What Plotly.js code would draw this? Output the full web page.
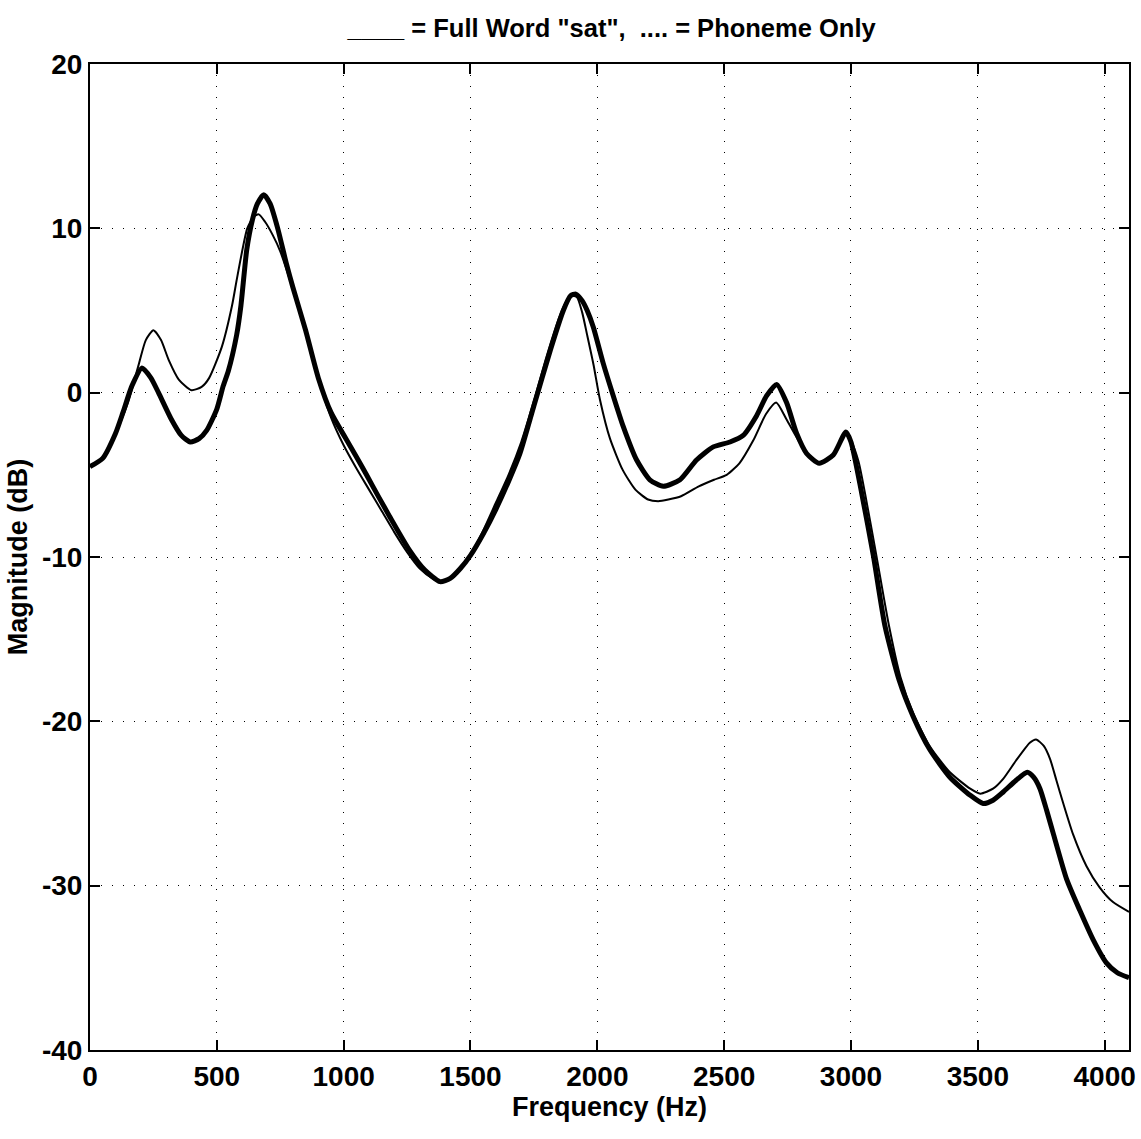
<!DOCTYPE html>
<html>
<head>
<meta charset="utf-8">
<script src="https://cdn.plot.ly/plotly-3.0.1.min.js"></script>
<style>html,body{margin:0;padding:0;background:#fff;}</style>
</head>
<body>
<div id="chart" style="width:1141px;height:1139px;"></div>
<script>
// Full word "sat" (solid thin line)
const fullFreq = [0,50,100,150,190,220,250,280,310,350,400,440,470,520,560,580,620,645,665,690,720,750,800,850,900,950,1000,1050,1100,1150,1200,1250,1300,1350,1380,1420,1460,1500,1550,1600,1650,1700,1750,1800,1850,1880,1900,1920,1940,1960,1985,2010,2050,2100,2150,2200,2240,2280,2330,2400,2460,2510,2560,2615,2665,2705,2745,2785,2825,2875,2930,2980,3000,3030,3055,3100,3150,3195,3245,3310,3390,3470,3510,3560,3600,3650,3705,3730,3760,3785,3810,3837,3876,3928,3980,4033,4096];
const fullDb = [-4.5,-4.0,-2.5,-0.6,1.6,3.2,3.8,3.2,2.0,0.8,0.15,0.35,0.9,2.8,5.3,7.0,10.0,10.7,10.85,10.4,9.6,8.6,6.3,3.8,0.9,-1.5,-3.2,-4.6,-5.9,-7.2,-8.5,-9.7,-10.7,-11.3,-11.5,-11.3,-10.7,-9.9,-8.4,-6.7,-5.0,-3.0,-0.5,2.2,4.6,5.6,5.9,5.8,4.9,3.5,1.7,-0.4,-2.8,-4.7,-5.9,-6.5,-6.6,-6.5,-6.3,-5.7,-5.3,-5.0,-4.3,-2.9,-1.3,-0.6,-1.6,-2.7,-3.7,-4.3,-3.8,-2.4,-2.9,-4.2,-6.1,-9.9,-14.2,-17.3,-19.5,-21.5,-23.1,-24.1,-24.4,-24.1,-23.5,-22.4,-21.3,-21.1,-21.5,-22.3,-23.6,-25.0,-26.9,-28.8,-30.1,-31.0,-31.6];

// Phoneme only (dotted, thick)
const phonFreq = [0,50,100,130,165,205,240,270,320,360,395,430,460,500,525,545,578,595,618,640,660,685,710,740,775,800,850,900,950,1005,1050,1090,1140,1180,1260,1320,1380,1420,1460,1500,1550,1600,1650,1695,1750,1815,1866,1895,1915,1940,1960,1984,2023,2063,2102,2155,2207,2260,2326,2391,2457,2523,2575,2628,2667,2707,2746,2785,2825,2875,2930,2980,3000,3042,3088,3134,3190,3245,3310,3390,3470,3521,3560,3600,3650,3695,3720,3745,3771,3797,3850,3902,3955,4007,4050,4096];
const phonDb = [-4.5,-4.0,-2.5,-1.2,0.4,1.5,0.9,0.0,-1.6,-2.6,-3.0,-2.8,-2.3,-1.0,0.4,1.3,3.5,5.3,8.7,10.5,11.5,12.05,11.5,10.0,7.8,6.4,3.8,0.9,-1.2,-2.7,-3.9,-5.0,-6.4,-7.5,-9.6,-10.8,-11.5,-11.3,-10.7,-9.9,-8.6,-7.1,-5.4,-3.7,-0.8,2.6,5.0,5.9,6.0,5.6,5.0,4.0,1.8,-0.2,-2.05,-4.1,-5.3,-5.7,-5.3,-4.1,-3.3,-3.0,-2.6,-1.4,-0.2,0.5,-0.6,-2.45,-3.7,-4.3,-3.8,-2.4,-3.0,-6.1,-9.9,-14.2,-17.5,-19.7,-21.7,-23.4,-24.5,-25.0,-24.8,-24.3,-23.6,-23.1,-23.4,-24.1,-25.4,-26.8,-29.6,-31.5,-33.3,-34.7,-35.3,-35.6];

const xTicks = [0,500,1000,1500,2000,2500,3000,3500,4000];
const yTicks = [-40,-30,-20,-10,0,10,20];

const FONT = '"Liberation Sans", Arial, sans-serif';

const traces = [
  {x: phonFreq, y: phonDb, type: 'scatter', mode: 'lines',
   line: {color: '#000', width: 5, shape: 'spline', smoothing: 0.6}, hoverinfo: 'skip'},
  {x: fullFreq, y: fullDb, type: 'scatter', mode: 'lines',
   line: {color: '#000', width: 2, shape: 'spline', smoothing: 0.6}, hoverinfo: 'skip'}
];

const axisCommon = {
  showline: true, linecolor: '#000', linewidth: 2, mirror: 'ticks',
  ticks: 'inside', ticklen: 10, tickwidth: 2, tickcolor: '#000',
  showgrid: true, gridcolor: '#000', gridwidth: 1, griddash: '1px,10px',
  zeroline: false,
  tickfont: {family: FONT, size: 28, color: '#000', weight: 'bold'}
};

const layout = {
  width: 1141, height: 1139,
  margin: {l: 90, r: 12, t: 64, b: 89},
  paper_bgcolor: '#fff', plot_bgcolor: '#fff',
  showlegend: false,
  title: {text: '____ = Full Word "sat",  .... = Phoneme Only',
          font: {family: FONT, size: 25.5, color: '#000', weight: 'bold'},
          x: 0.536, xanchor: 'center', y: 0.975, yanchor: 'middle'},
  xaxis: Object.assign({}, axisCommon, {
    range: [0, 4096], tickvals: xTicks, ticktext: xTicks.map(String),
    title: {text: 'Frequency (Hz)', standoff: 6,
            font: {family: FONT, size: 27, color: '#000', weight: 'bold'}}
  }),
  yaxis: Object.assign({}, axisCommon, {
    range: [-40, 20], tickvals: yTicks, ticktext: yTicks.map(String),
    title: {text: 'Magnitude (dB)', standoff: 6,
            font: {family: FONT, size: 27, color: '#000', weight: 'bold'}}
  })
};

Plotly.newPlot('chart', traces, layout, {staticPlot: true, displayModeBar: false});
</script>
</body>
</html>
